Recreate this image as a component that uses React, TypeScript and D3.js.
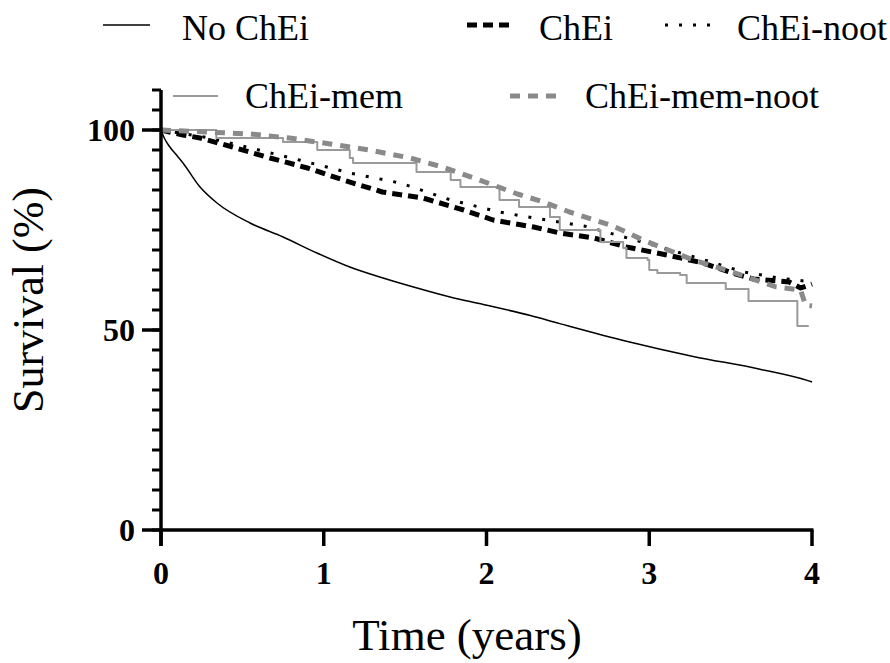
import React from "react";
import * as d3 from "d3";

// ---- data ----
const tNoChEi = [0, 0.02, 0.05, 0.1, 0.135, 0.24, 0.344, 0.547, 0.75, 0.958, 1.16, 1.364, 1.573, 1.776, 1.98, 2.27, 2.45, 2.86, 3.27, 3.68, 3.97, 4.0];
const sNoChEi = [100, 98, 96, 93.5, 91.75, 85.75, 81.75, 76.75, 73.25, 69.25, 65.75, 63, 60.5, 58.25, 56.4, 53.6, 51.6, 47.2, 43.4, 40.2, 37.4, 37];

const tChEi = [0, 0.135, 0.24, 0.44, 0.67, 0.9, 1.12, 1.36, 1.61, 1.86, 2.04, 2.29, 2.45, 2.66, 2.86, 3.11, 3.33, 3.51, 3.64, 3.86, 3.93, 4.0];
const sChEi = [100, 98.75, 98, 95.75, 93, 90.5, 87.5, 84.5, 83, 80, 77.5, 75.75, 74.25, 73, 70.75, 68.75, 66.75, 64.25, 62.75, 62, 60.5, 61.5];

const tChEiNoot = [0, 0.3, 0.6, 0.85, 1.16, 1.47, 1.78, 2.08, 2.29, 2.6, 3.0, 3.3, 3.58, 3.8, 4.0];
const sChEiNoot = [100, 98, 95, 92.5, 89.25, 86.75, 82.5, 79.5, 78, 76, 71.5, 68, 64.5, 63, 62];

const tChEiMem = [0, 0.34, 0.75, 0.96, 1.16, 1.18, 1.57, 1.78, 1.84, 2.08, 2.2, 2.39, 2.45, 2.7, 2.84, 2.86, 2.99, 3.0, 3.05, 3.19, 3.23, 3.47, 3.61, 3.91, 3.98];
const sChEiMem = [100, 98, 97, 95, 93, 91.75, 89.5, 87.5, 85.75, 82.5, 80.75, 78.25, 75, 72, 70.5, 68, 67.5, 65, 64.25, 63.75, 61.75, 60.25, 57.25, 51, 51];

const tChEiMemNoot = [0, 0.28, 0.55, 0.79, 1.04, 1.28, 1.53, 1.73, 1.94, 2.19, 2.35, 2.51, 2.76, 2.86, 2.96, 3.07, 3.27, 3.51, 3.78, 3.93, 3.96, 4.0];
const sChEiMemNoot = [100, 99.5, 99, 98, 96.5, 95, 93, 90.75, 87.75, 84, 82, 79.5, 76.25, 74.5, 72.5, 70.75, 67.5, 64.5, 60.75, 60, 56.25, 56];

const xTicks = [0, 1, 2, 3, 4];
const yMajorTicks = [0, 50, 100];
const yMinorTicks = d3.range(0, 111, 5);

const seriesNames = ["No ChEi", "ChEi", "ChEi-noot", "ChEi-mem", "ChEi-mem-noot"];

type Style = { stroke: string; width: number; dash?: string; curve: any };
const styles: Style[] = [
  { stroke: "#000", width: 1.5, curve: d3.curveMonotoneX },
  { stroke: "#000", width: 5, dash: "10 6", curve: d3.curveLinear },
  { stroke: "#000", width: 3, dash: "3 11", curve: d3.curveLinear },
  { stroke: "#9a9a9a", width: 2, curve: d3.curveStepAfter },
  { stroke: "#8a8a8a", width: 5, dash: "10 8", curve: d3.curveLinear },
];

const seriesData = [
  [tNoChEi, sNoChEi],
  [tChEi, sChEi],
  [tChEiNoot, sChEiNoot],
  [tChEiMem, sChEiMem],
  [tChEiMemNoot, sChEiMemNoot],
];

export default function App() {
  const W = 890, H = 663;
  const x = d3.scaleLinear().domain([0, 4]).range([161, 812]);
  const y = d3.scaleLinear().domain([0, 100]).range([530, 130]);
  const font = "'Liberation Serif', 'Times New Roman', serif";

  const mkLine = (curve: any) =>
    d3
      .line<[number, number]>()
      .x((d) => x(d[0]))
      .y((d) => y(d[1]))
      .curve(curve);

  // legend layout
  const legend = [
    { lx1: 103, lx2: 150, ly: 25, tx: 182, ty: 40 },
    { lx1: 467, lx2: 514, ly: 25, tx: 539, ty: 40 },
    { lx1: 665, lx2: 710, ly: 25, tx: 737, ty: 40 },
    { lx1: 173, lx2: 218, ly: 96, tx: 245, ty: 108 },
    { lx1: 510, lx2: 560, ly: 96, tx: 585, ty: 108 },
  ];

  return (
    <svg
      width={W}
      height={H}
      style={{ position: "absolute", left: 0, top: 0, background: "#fff" }}
    >
      <rect x={0} y={0} width={W} height={H} fill="#fff" />
      {/* series */}
      {seriesData.map(([ts, ss], i) => {
        const pts = ts.map((t, j) => [t, ss[j]] as [number, number]);
        const st = styles[i];
        return (
          <path
            key={i}
            d={mkLine(st.curve)(pts) || ""}
            fill="none"
            stroke={st.stroke}
            strokeWidth={st.width}
            strokeDasharray={st.dash}
            strokeLinejoin="round"
          />
        );
      })}

      {/* y axis */}
      <line x1={x(0)} x2={x(0)} y1={y(110)} y2={y(0) + 16} stroke="#000" strokeWidth={3.5} />
      {yMinorTicks.map((v) => (
        <line key={"m" + v} x1={x(0) - 9} x2={x(0)} y1={y(v)} y2={y(v)} stroke="#000" strokeWidth={3} />
      ))}
      {yMajorTicks.map((v) => (
        <g key={"M" + v}>
          <line x1={x(0) - 19} x2={x(0)} y1={y(v)} y2={y(v)} stroke="#000" strokeWidth={3.5} />
          <text
            x={x(0) - 26}
            y={y(v) + 11}
            textAnchor="end"
            fontFamily={font}
            fontWeight="bold"
            fontSize={32}
          >
            {v}
          </text>
        </g>
      ))}

      {/* x axis */}
      <line x1={x(0)} x2={x(4) + 1.5} y1={y(0)} y2={y(0)} stroke="#000" strokeWidth={3.5} />
      {xTicks.map((v) => (
        <g key={"x" + v}>
          <line x1={x(v)} x2={x(v)} y1={y(0)} y2={y(0) + 16} stroke="#000" strokeWidth={3.5} />
          <text
            x={x(v)}
            y={584}
            textAnchor="middle"
            fontFamily={font}
            fontWeight="bold"
            fontSize={32}
          >
            {v}
          </text>
        </g>
      ))}

      {/* axis titles */}
      <text x={467} y={650} textAnchor="middle" fontFamily={font} fontSize={45}>
        Time (years)
      </text>
      <text
        transform="translate(43,300) rotate(-90)"
        textAnchor="middle"
        fontFamily={font}
        fontSize={44}
      >
        Survival (%)
      </text>

      {/* legend */}
      {legend.map((l, i) => {
        const st = styles[i];
        return (
          <g key={"l" + i}>
            <line
              x1={l.lx1}
              x2={l.lx2}
              y1={l.ly}
              y2={l.ly}
              stroke={st.stroke}
              strokeWidth={st.width}
              strokeDasharray={st.dash}
            />
            <text x={l.tx} y={l.ty} fontFamily={font} fontSize={36}>
              {seriesNames[i]}
            </text>
          </g>
        );
      })}
    </svg>
  );
}
